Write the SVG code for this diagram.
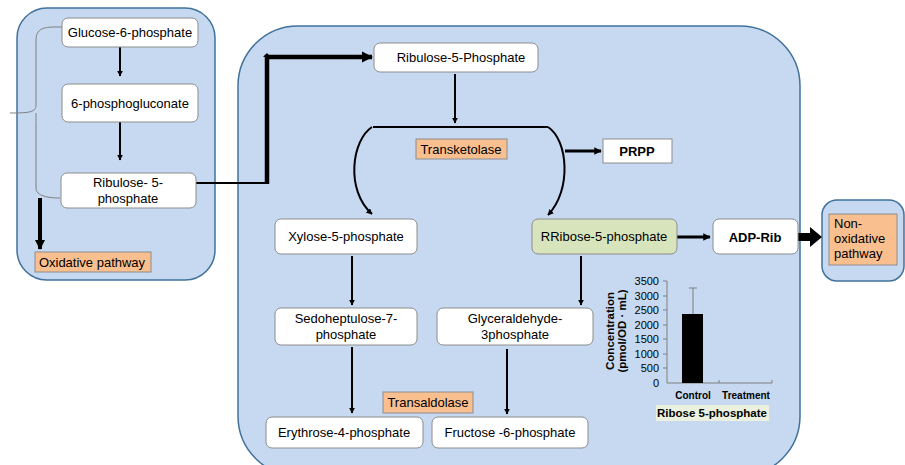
<svg xmlns="http://www.w3.org/2000/svg" width="905" height="465" viewBox="0 0 905 465">
<style>
.panel{fill:#c6d9f0;stroke:#41719c;stroke-width:1.5}
.node{fill:#fff;stroke:#8c8c8c;stroke-width:1}
.enz{fill:#f9bf8f;stroke:#8c8c8c;stroke-width:1}
.t{font-family:"Liberation Sans",Arial,sans-serif;font-size:13px;fill:#000;text-anchor:middle}
.b{font-weight:bold}
.ln{stroke:#000;fill:none;stroke-width:2}
.ax{stroke:#7f7f7f;fill:none;stroke-width:1}
.ch{font-family:"Liberation Sans",Arial,sans-serif;font-size:11px;fill:#000}
</style>
<defs>
<marker id="ah" viewBox="0 0 10 10" refX="9" refY="5" markerWidth="3" markerHeight="3" orient="auto"><path d="M0,0L10,5L0,10z" fill="#000"/></marker>
<marker id="ahb" viewBox="0 0 10 10" refX="9" refY="5" markerWidth="2.5" markerHeight="2.5" orient="auto"><path d="M0,0L10,5L0,10z" fill="#000"/></marker>
</defs>
<g id="panels">
<rect class="panel" x="17" y="8" width="198" height="272" rx="30"/>
<rect class="panel" x="238" y="26" width="562" height="450" rx="60"/>
<rect class="panel" x="822" y="200" width="82" height="81" rx="15"/>
</g>
<g id="connectors">
<path d="M62,27 C48,27 36,26 36,40 L36,105 C36,112 30,113 10,113 M36,113 C36,115 36,118 36,125 L36,188 C36,196 48,198 60,198" fill="none" stroke="#7f7f7f" stroke-width="1"/>
<line class="ln" x1="120" y1="47" x2="120" y2="76" marker-end="url(#ah)"/>
<line class="ln" x1="120" y1="122" x2="120" y2="160" marker-end="url(#ah)"/>
<line x1="40" y1="198" x2="40" y2="249" stroke="#000" stroke-width="4" marker-end="url(#ahb)"/>
<path d="M196,183 L267,183" class="ln"/>
<path d="M267,184 L267,57 L372,57" fill="none" stroke="#000" stroke-width="4.5" marker-end="url(#ahb)"/>
<path d="M263,57 L267,53 L271,57 z" fill="#000"/>
<line class="ln" x1="455" y1="74" x2="455" y2="123" marker-end="url(#ah)"/>
<line class="ln" x1="373" y1="127" x2="548" y2="127"/>
<path d="M372,127 C352,140 345,190 372,214" class="ln" marker-end="url(#ah)"/>
<path d="M548,127 C568,140 572,190 548,215" class="ln" marker-end="url(#ah)"/>
<line x1="565" y1="151" x2="601" y2="151" stroke="#000" stroke-width="3" marker-end="url(#ahb)"/>
<line x1="677" y1="237" x2="710" y2="237" stroke="#000" stroke-width="3" marker-end="url(#ahb)"/>
<path d="M798,233 L810,233 L810,227 L822,237 L810,247 L810,241 L798,241 z" fill="#000"/>
<line class="ln" x1="352" y1="256" x2="352" y2="305" marker-end="url(#ah)"/>
<line class="ln" x1="581" y1="256" x2="581" y2="305" marker-end="url(#ah)"/>
<line class="ln" x1="352" y1="347" x2="352" y2="413" marker-end="url(#ah)"/>
<line class="ln" x1="507" y1="349" x2="507" y2="414" marker-end="url(#ah)"/>
</g>
<g id="g6p"><rect class="node" x="62" y="18" width="136" height="29" rx="6"/><text class="t" x="130" y="37">Glucose-6-phosphate</text></g>
<g id="pg6"><rect class="node" x="62" y="84" width="136" height="38" rx="6"/><text class="t" x="130" y="108">6-phosphogluconate</text></g>
<g id="ru5p1"><rect class="node" x="61" y="173" width="135" height="35" rx="6"/><text class="t" x="128" y="187">Ribulose- 5-</text><text class="t" x="128" y="203">phosphate</text></g>
<g id="oxid"><rect class="enz" x="35" y="252" width="116" height="20"/><text class="t" x="92" y="267">Oxidative pathway</text></g>
<g id="ru5p2"><rect class="node" x="374" y="43" width="164" height="29" rx="6"/><text class="t" x="461" y="62">Ribulose-5-Phosphate</text></g>
<g id="tk"><rect class="enz" x="416" y="139" width="91" height="20"/><text class="t" x="461" y="154">Transketolase</text></g>
<g id="prpp"><rect class="node" x="603" y="139" width="69" height="24" rx="0"/><text class="t b" x="637" y="156">PRPP</text></g>
<g id="x5p"><rect class="node" x="275" y="219" width="142" height="35" rx="6"/><text class="t" x="346" y="241">Xylose-5-phosphate</text></g>
<g id="r5p"><rect class="node" x="532" y="219" width="145" height="35" rx="6" style="fill:#d8e4bc"/><text class="t" x="604" y="241">RRibose-5-phosphate</text></g>
<g id="adp"><rect class="node" x="713" y="219" width="85" height="35" rx="6"/><text class="t b" x="755" y="242">ADP-Rib</text></g>
<g id="nonox"><rect class="enz" x="829" y="214" width="68" height="51"/><text class="t" x="834" y="228" style="text-anchor:start">Non-</text><text class="t" x="834" y="243" style="text-anchor:start">oxidative</text><text class="t" x="834" y="258" style="text-anchor:start">pathway</text></g>
<g id="s7p"><rect class="node" x="275" y="308" width="142" height="37" rx="6"/><text class="t" x="346" y="323">Sedoheptulose-7-</text><text class="t" x="346" y="339">phosphate</text></g>
<g id="ga3p"><rect class="node" x="437" y="308" width="156" height="37" rx="6"/><text class="t" x="515" y="323">Glyceraldehyde-</text><text class="t" x="515" y="339">3phosphate</text></g>
<g id="ta"><rect class="enz" x="383" y="392" width="90" height="21"/><text class="t" x="428" y="407">Transaldolase</text></g>
<g id="e4p"><rect class="node" x="266" y="417" width="157" height="31" rx="6"/><text class="t" x="344" y="437">Erythrose-4-phosphate</text></g>
<g id="f6p"><rect class="node" x="432" y="417" width="156" height="31" rx="6"/><text class="t" x="510" y="437">Fructose -6-phosphate</text></g>
<g id="chart">
<path class="ax" d="M663,281H667M663,296H667M663,310H667M663,325H667M663,339H667M663,354H667M663,368H667M667,281V383H772M719,383V380M772,383V380"/>
<line x1="693" y1="314" x2="693" y2="288" stroke="#7f7f7f" stroke-width="1"/>
<line x1="689" y1="288" x2="697" y2="288" stroke="#7f7f7f" stroke-width="1"/>
<rect x="682" y="314" width="21" height="69" fill="#000"/>
<g class="ch" style="text-anchor:end">
<text x="659" y="285">3500</text><text x="659" y="300">3000</text><text x="659" y="314">2500</text><text x="659" y="329">2000</text><text x="659" y="343">1500</text><text x="659" y="358">1000</text><text x="659" y="372">500</text><text x="659" y="387">0</text>
</g>
<text class="ch b" transform="translate(614,331) rotate(-90)" style="text-anchor:middle;font-size:11.5px">Concentration</text>
<text class="ch b" transform="translate(626,331) rotate(-90)" style="text-anchor:middle;font-size:11.5px">(pmol/OD · mL)</text>
<text class="ch b" x="693" y="399" style="text-anchor:middle;font-size:10px">Control</text>
<text class="ch b" x="746" y="399" style="text-anchor:middle;font-size:10px">Treatment</text>
<rect x="656" y="405" width="113" height="16" fill="#ebf1de"/>
<text class="ch b" x="712" y="417" style="text-anchor:middle;font-size:11.5px">Ribose 5-phosphate</text>
</g>
</svg>
